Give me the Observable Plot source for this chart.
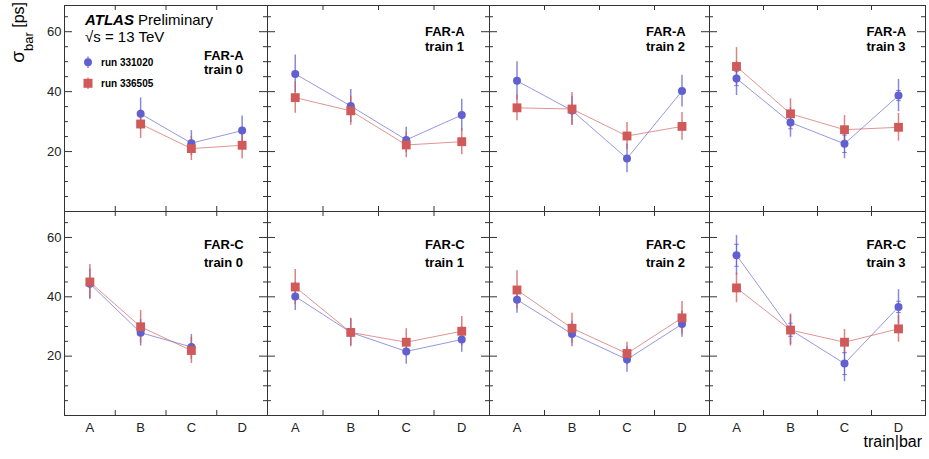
<!DOCTYPE html>
<html><head><meta charset="utf-8">
<script src="https://cdn.jsdelivr.net/npm/d3@7"></script>
<script src="https://cdn.jsdelivr.net/npm/@observablehq/plot@0.6"></script>
<style>
html,body{margin:0;padding:0;background:#fff;}
#chart{position:relative;width:929px;height:459px;overflow:hidden;font-family:"Liberation Sans",Arial,Helvetica,sans-serif;}
#chart .panel{position:absolute;}
#overlay{position:absolute;left:0;top:0;pointer-events:none;}
</style></head><body><div id="chart"></div>
<script>
// ---------- data ----------
const categories = ["A", "B", "C", "D"];
const stations = ["FAR-A", "FAR-C"];
const trains = ["train 0", "train 1", "train 2", "train 3"];
const runs = ["run 331020", "run 336505"];
const yMajorTicks = [20, 40, 60];
const yMinorTicks = [5, 10, 15, 25, 30, 35, 45, 50, 55, 65];
const xEdgeTicks = [1, 2, 3];

// run 331020 (blue circles), FAR-A, trains 0..3, values for A..D
const farA_run331020 = [
  [null, 32.6, 22.8, 27.0],
  [45.9, 35.2, 23.9, 32.2],
  [43.6, 33.7, 17.7, 40.2],
  [44.4, 29.7, 22.6, 38.7]
];
const farA_run331020_err = [
  [null, 5.3, 4.2, 4.9],
  [6.3, 5.5, 4.2, 5.3],
  [6.4, 4.8, 4.8, 5.3],
  [5.7, 4.9, 5.0, 5.4]
];
// run 336505 (red squares), FAR-A
const farA_run336505 = [
  [null, 29.2, 21.0, 22.1],
  [38.0, 33.6, 22.2, 23.3],
  [34.6, 34.2, 25.2, 28.4],
  [48.4, 32.6, 27.3, 28.1]
];
const farA_run336505_err = [
  [null, 4.8, 4.0, 4.6],
  [5.2, 4.8, 4.3, 4.4],
  [4.3, 5.5, 4.5, 4.6],
  [6.3, 5.0, 4.7, 4.6]
];
// run 331020, FAR-C
const farC_run331020 = [
  [44.4, 27.9, 23.1, null],
  [40.1, 28.0, 21.6, 25.6],
  [39.0, 27.5, 18.9, 30.8],
  [54.0, 28.9, 17.5, 36.6]
];
const farC_run331020_err = [
  [5.0, 4.5, 4.2, null],
  [4.7, 4.5, 4.3, 4.3],
  [4.5, 4.3, 4.3, 4.4],
  [6.7, 5.0, 6.1, 5.8]
];
// run 336505, FAR-C
const farC_run336505 = [
  [45.0, 29.9, 21.9, null],
  [43.3, 28.0, 24.7, 28.4],
  [42.3, 29.4, 20.9, 32.9],
  [43.0, 28.8, 24.7, 29.2]
];
const farC_run336505_err = [
  [5.9, 5.5, 4.4, null],
  [5.9, 4.8, 4.5, 5.0],
  [6.5, 5.1, 3.8, 5.5],
  [5.0, 5.4, 4.3, 4.5]
];
// inner (capped) error of run 331020 in train 3
const farA_run331020_train3_inner = [2.4, 2.1, 2.9, 1.7];
const farC_run331020_train3_inner = [3.7, 2.2, 3.7, 1.9];

// ---------- style / layout ----------
const BLUE = "#6060d0";
const RED = "#d05a5a";
const FRAME = "#333";
const FONT = '"Liberation Sans", Arial, Helvetica, sans-serif';
const colX = [64, 267, 489, 709, 925];
const rowY = [5, 211, 415];
const Y_DOMAIN = [0, 68.75];

const blueVals = [farA_run331020, farC_run331020];
const blueErrs = [farA_run331020_err, farC_run331020_err];
const redVals = [farA_run336505, farC_run336505];
const redErrs = [farA_run336505_err, farC_run336505_err];
const blueInner = [farA_run331020_train3_inner, farC_run331020_train3_inner];

const hline = {draw(ctx, size) { const r = Math.sqrt(size / Math.PI); ctx.moveTo(-r, 0); ctx.lineTo(r, 0); }};

function rows(vals, errs, inner) {
  return categories.map((c, i) => ({cat: c, x: i + 0.5, v: vals[i], e: errs[i], c: inner ? inner[i] : null}))
    .filter(d => d.v != null);
}

const chart = document.getElementById("chart");

for (let r = 0; r < 2; r++) {
  for (let c = 0; c < 4; c++) {
    const w = colX[c + 1] - colX[c];
    const h = rowY[r + 1] - rowY[r];
    const mL = c === 0 ? 45 : 3, mR = 3, mT = 3, mB = r === 1 ? 30 : 3;
    const blue = rows(blueVals[r][c], blueErrs[r][c], c === 3 ? blueInner[r] : null);
    const red = rows(redVals[r][c], redErrs[r][c], null);
    const marks = [
      Plot.tickY(yMajorTicks, {y: d => d, insetRight: w - 8, stroke: FRAME}),
      Plot.tickY(yMajorTicks, {y: d => d, insetLeft: w - 8, stroke: FRAME}),
      Plot.tickY(yMinorTicks, {y: d => d, insetRight: w - 4, stroke: FRAME}),
      Plot.tickY(yMinorTicks, {y: d => d, insetLeft: w - 4, stroke: FRAME}),
      Plot.tickX(xEdgeTicks, {x: d => d, insetTop: h - 5, stroke: FRAME}),
      Plot.tickX(xEdgeTicks, {x: d => d, insetBottom: h - 5, stroke: FRAME}),
      Plot.frame({stroke: FRAME, strokeWidth: 1}),
      // error bars
      Plot.ruleX(blue, {x: "x", y1: d => d.v - d.e, y2: d => d.v + d.e, stroke: BLUE, strokeWidth: 1.5, strokeOpacity: 0.75}),
      Plot.ruleX(red, {x: "x", y1: d => d.v - d.e, y2: d => d.v + d.e, stroke: RED, strokeWidth: 1.5, strokeOpacity: 0.75}),
      // lines
      Plot.line(blue, {x: "x", y: "v", stroke: BLUE, strokeWidth: 1, strokeOpacity: 0.65}),
      Plot.line(red, {x: "x", y: "v", stroke: RED, strokeWidth: 1, strokeOpacity: 0.65}),
    ];
    if (c === 3) {
      const caps = blue.flatMap(d => [{x: d.x, y: d.v - d.c}, {x: d.x, y: d.v + d.c}]);
      marks.push(Plot.ruleX(blue, {x: "x", y1: d => d.v - d.c, y2: d => d.v + d.c, stroke: BLUE, strokeWidth: 1, strokeOpacity: 0.75}));
      marks.push(Plot.dot(caps, {x: "x", y: "y", symbol: hline, r: 2.3, stroke: BLUE, strokeWidth: 1, strokeOpacity: 0.8}));
    }
    marks.push(
      Plot.dot(blue, {x: "x", y: "v", r: 4, fill: BLUE, stroke: "none"}),
      Plot.dot(red, {x: "x", y: "v", symbol: "square", r: 5, fill: RED, stroke: "none"})
    );
    if (c === 0) marks.push(Plot.axisY({ticks: yMajorTicks, tickSize: 0, tickPadding: 3, fontSize: 13, label: null}));
    if (r === 1) marks.push(Plot.axisX({ticks: [0.5, 1.5, 2.5, 3.5], tickFormat: t => categories[Math.floor(t)], tickSize: 0, tickPadding: 7, fontSize: 13, label: null}));
    const p = Plot.plot({
      width: w + mL + mR,
      height: h + mT + mB,
      marginLeft: mL, marginRight: mR, marginTop: mT, marginBottom: mB,
      style: {background: "transparent", overflow: "visible", fontFamily: FONT, fontSize: "13px", color: "#222"},
      x: {type: "linear", domain: [0, 4], label: null, ...(r === 1 ? {} : {axis: null})},
      y: {type: "linear", domain: Y_DOMAIN, label: null, ...(c === 0 ? {} : {axis: null})},
      marks
    });
    const div = document.createElement("div");
    div.className = "panel";
    div.style.left = (colX[c] - mL) + "px";
    div.style.top = (rowY[r] - mT) + "px";
    div.appendChild(p);
    chart.appendChild(div);
  }
}

// ---------- annotations ----------
const svg = d3.select(chart).append("svg").attr("id", "overlay").attr("width", 929).attr("height", 459)
  .style("font-family", FONT);

// panel labels
const labelX = [204, 425, 646, 866.5];
for (let r = 0; r < 2; r++) {
  for (let c = 0; c < 4; c++) {
    let b1, b2;
    if (r === 0) { if (c === 0) { b1 = 60; b2 = 73.5; } else { b1 = 35.7; b2 = 50.7; } }
    else { b1 = 249.3; b2 = 266.7; }
    svg.append("text").attr("x", labelX[c]).attr("y", b1).attr("font-size", 13).attr("font-weight", "bold").attr("fill", "#000").text(stations[r]);
    svg.append("text").attr("x", labelX[c]).attr("y", b2).attr("font-size", 13).attr("font-weight", "bold").attr("fill", "#000").text(trains[c]);
  }
}

// ATLAS label
const atl = svg.append("text").attr("x", 85).attr("y", 25).attr("font-size", 15).attr("fill", "#000");
atl.append("tspan").attr("font-weight", "bold").attr("font-style", "italic").text("ATLAS");
atl.append("tspan").text(" Preliminary");
svg.append("text").attr("x", 85).attr("y", 42).attr("font-size", 15).attr("fill", "#000").text("\u221As = 13 TeV");

// legend
svg.append("line").attr("x1", 88).attr("x2", 88).attr("y1", 56.5).attr("y2", 68).attr("stroke", BLUE).attr("stroke-width", 1.5).attr("stroke-opacity", 0.75);
svg.append("circle").attr("cx", 88).attr("cy", 62.3).attr("r", 4).attr("fill", BLUE);
svg.append("text").attr("x", 101).attr("y", 66).attr("font-size", 10).attr("font-weight", "bold").attr("fill", "#000").text(runs[0]);
svg.append("line").attr("x1", 88).attr("x2", 88).attr("y1", 77.5).attr("y2", 89).attr("stroke", RED).attr("stroke-width", 1.5).attr("stroke-opacity", 0.75);
svg.append("rect").attr("x", 83.5).attr("y", 78.8).attr("width", 9).attr("height", 9).attr("fill", RED);
svg.append("text").attr("x", 101).attr("y", 87).attr("font-size", 10).attr("font-weight", "bold").attr("fill", "#000").text(runs[1]);

// axis titles
const yt = svg.append("text").attr("transform", "translate(24,2) rotate(-90)").attr("text-anchor", "end").attr("fill", "#000");
yt.append("tspan").attr("font-size", 19).text("\u03C3");
yt.append("tspan").attr("font-size", 13).attr("dy", 9).text("bar");
yt.append("tspan").attr("font-size", 16).attr("dy", -9).text(" [ps]");
svg.append("text").attr("x", 922).attr("y", 447).attr("text-anchor", "end").attr("font-size", 16).attr("fill", "#000").text("train|bar");
</script></body></html>
